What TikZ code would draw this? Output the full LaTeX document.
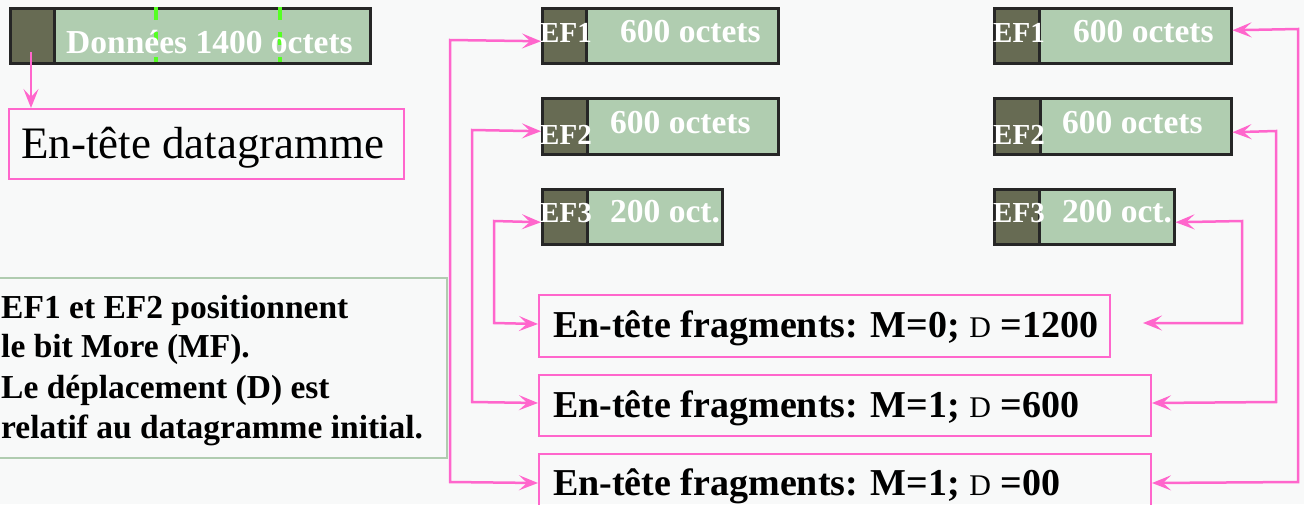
\documentclass[tikz,border=0pt]{standalone}
\usepackage{fontspec}
\setmainfont{Liberation Serif}
\usetikzlibrary{arrows.meta,calc}

\definecolor{bgc}{HTML}{F8F9F9}
\definecolor{hdrc}{HTML}{676B53}
\definecolor{datac}{HTML}{B0CDB0}
\definecolor{pinkc}{HTML}{FF66CC}
\definecolor{cutc}{HTML}{55FF22}
\definecolor{notec}{HTML}{B0CCB0}

\newcommand{\fsz}[1]{\fontsize{#1}{#1}\selectfont}

\tikzset{
  hdrbox/.style={draw=black!85, line width=2.5pt, fill=hdrc, anchor=north west,
    inner sep=0pt, minimum height=55pt},
  databox/.style={draw=black!85, line width=2.5pt, fill=datac, anchor=north west,
    inner sep=0pt, minimum height=55pt},
  efname/.style={text=white, font=\bfseries\fsz{29}, anchor=base west, inner sep=0pt},
  datatxt/.style={text=white, font=\bfseries\fsz{33.5}, anchor=base west, inner sep=0pt},
  pinkbox/.style={draw=pinkc, line width=2pt, anchor=north west, inner sep=0pt},
  fragtxt/.style={font=\bfseries\fsz{38}, anchor=base west, inner sep=0pt},
  tip/.tip={Stealth[length=19pt,width=15pt,inset=8pt]},
  link/.style={draw=pinkc, line width=2.5pt, -tip},
  dlink/.style={draw=pinkc, line width=2.5pt, tip-tip},
}

\newcommand{\smD}{{\mdseries\fsz{30}D}}

\begin{document}
\begin{tikzpicture}[x=1pt, y=-1pt]
  \useasboundingbox (0,0) rectangle (1304,504);
  \clip (0,0) rectangle (1304,504);
  \fill[bgc] (0,0) rectangle (1304,504);

  % original datagram: header + 1400 data bytes, with the cut positions
  \node[hdrbox, minimum width=44pt] (dh) at (9,7) {};
  \node[databox, minimum width=316pt] (dd) at (53,7) {};
  \draw[cutc, line width=4pt, dash pattern=on 13pt off 12pt] (155.5,7) -- (155.5,62);
  \draw[cutc, line width=4pt, dash pattern=on 13pt off 12pt] (279.5,7) -- (279.5,62);
  \node[datatxt] (ddt) at (66,53) {Données 1400 octets};

  % datagram header box
  \node[pinkbox, minimum width=395pt, minimum height=70pt] (dgh) at (8,108) {};
  \node[anchor=base west, inner sep=0pt, font=\fsz{45}] (dght) at (21,158) {En-tête datagramme};
  \coordinate (dhs) at (31,52);
  \draw[link] (dhs) -- (dhs |- dgh.north);

  % fragments, left column
  \node[hdrbox, minimum width=44pt] (l1h) at (541,7) {};
  \node[databox, minimum width=192pt] (l1d) at (585,7) {};
  \node[efname] (l1n) at (540,42) {EF1};
  \node[datatxt] (l1t) at (620,42) {600 octets};

  \node[hdrbox, minimum width=45pt, minimum height=56pt] (l2h) at (541,97) {};
  \node[databox, minimum width=191pt, minimum height=56pt] (l2d) at (586,97) {};
  \node[efname] (l2n) at (540,144) {EF2};
  \node[datatxt] (l2t) at (610,133) {600 octets};

  \node[hdrbox, minimum width=45pt] (l3h) at (541,188) {};
  \node[databox, minimum width=135pt] (l3d) at (586,188) {};
  \node[efname] (l3n) at (540,222) {EF3};
  \node[datatxt] (l3t) at (610,222) {200 oct.};

  % fragments, right column
  \node[hdrbox, minimum width=45pt] (r1h) at (993,7) {};
  \node[databox, minimum width=192pt] (r1d) at (1038,7) {};
  \node[efname] (r1n) at (993,42) {EF1};
  \node[datatxt] (r1t) at (1073,42) {600 octets};

  \node[hdrbox, minimum width=46pt, minimum height=56pt] (r2h) at (993,97) {};
  \node[databox, minimum width=191pt, minimum height=56pt] (r2d) at (1039,97) {};
  \node[efname] (r2n) at (993,144) {EF2};
  \node[datatxt] (r2t) at (1062,133) {600 octets};

  \node[hdrbox, minimum width=45pt] (r3h) at (993,188) {};
  \node[databox, minimum width=135pt] (r3d) at (1038,188) {};
  \node[efname] (r3n) at (993,222) {EF3};
  \node[datatxt] (r3t) at (1062,222) {200 oct.};

  % fragment headers
  \node[pinkbox, minimum width=571pt, minimum height=62pt] (h0) at (538,294) {};
  \node[fragtxt] (h0t) at (553,337) {En-tête fragments: M=0; \smD{} =1200};
  \node[pinkbox, minimum width=612pt, minimum height=61pt] (h1) at (538,374) {};
  \node[fragtxt] (h1t) at (553,417) {En-tête fragments: M=1; \smD{} =600};
  \node[pinkbox, minimum width=612pt, minimum height=62pt] (h2) at (538,453) {};
  \node[fragtxt] (h2t) at (553,495) {En-tête fragments: M=1; \smD{} =00};

  % note
  \node[draw=notec, line width=2pt, anchor=north west, inner sep=0pt,
        minimum width=448pt, minimum height=180pt] (note) at (-2,277) {};
  \node[anchor=base west, inner sep=0pt, font=\bfseries\fsz{33.5}] (n1) at (1,318) {EF1 et EF2 positionnent};
  \node[anchor=base west, inner sep=0pt, font=\bfseries\fsz{33.5}] (n2) at (1,357) {le bit More (MF).};
  \node[anchor=base west, inner sep=0pt, font=\bfseries\fsz{33.5}] (n3) at (1,398) {Le déplacement (D) est};
  \node[anchor=base west, inner sep=0pt, font=\bfseries\fsz{33.5}] (n4) at (1,438) {relatif au datagramme initial.};

  % left links: fragment header <-> fragment
  \draw[dlink] ([yshift=2pt]h2.west) -- (450,482) -- (450,40) -- ([yshift=-5.5pt]l1h.west);
  \draw[dlink] ([yshift=2.5pt]h1.west) -- (472,402) -- (472,130) -- ([yshift=-5pt]l2h.west);
  \draw[dlink] ([yshift=2pt]h0.west) -- (494,323) -- (494,221) -- ([yshift=-5.5pt]l3h.west);

  % right links
  \coordinate (h0e) at (1143,323);
  \draw[dlink] ([yshift=2pt]h2.east) -- (1298,482) -- (1298,29) -- ([yshift=5.5pt]r1d.east);
  \draw[dlink] ([yshift=2.5pt]h1.east) -- (1276,402) -- (1276,131) -- ([yshift=-6pt]r2d.east);
  \draw[dlink] (h0e) -- (1242,323) -- (1242,221) -- ([yshift=-5.5pt]r3d.east);
\end{tikzpicture}
\end{document}
